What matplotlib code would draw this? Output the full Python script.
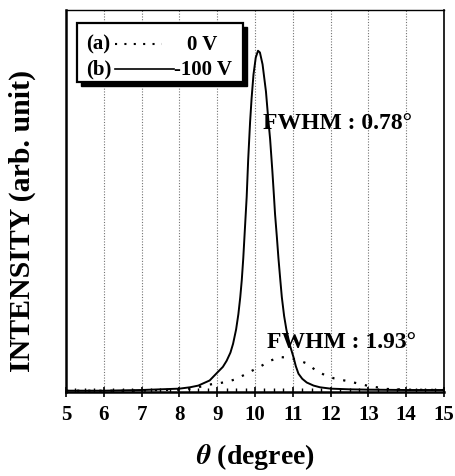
import matplotlib
matplotlib.use('Agg')
import matplotlib.pyplot as plt
from matplotlib.patches import Rectangle
from matplotlib.ticker import MultipleLocator

plt.rcParams['font.family'] = ['Liberation Serif', 'DejaVu Serif']
plt.rcParams['font.weight'] = 'bold'
plt.rcParams['mathtext.fontset'] = 'stix'

# solid curve (b) -100 V, normalised to its peak
theta_b = [5.0, 6.0, 7.0, 7.5, 8.0, 8.28, 8.5, 8.8, 9.0, 9.15, 9.25, 9.35, 9.42,
           9.50, 9.56, 9.61, 9.65, 9.69, 9.74, 9.78, 9.82, 9.87, 9.91, 9.96,
           10.02, 10.08, 10.13, 10.20, 10.29, 10.35, 10.40, 10.46, 10.50, 10.53,
           10.58, 10.62, 10.67, 10.71, 10.77, 10.83, 10.92, 11.02, 11.08, 11.15,
           11.25, 11.37, 11.55, 11.72, 12.0, 12.5, 13.0, 14.0, 15.0]
int_b = [0.0, 0.0, 0.002, 0.004, 0.006, 0.01, 0.015, 0.03, 0.053, 0.07, 0.088,
         0.112, 0.138, 0.18, 0.225, 0.275, 0.325, 0.39, 0.49, 0.57, 0.68, 0.79,
         0.86, 0.93, 0.98, 1.0, 0.995, 0.96, 0.88, 0.80, 0.74, 0.645, 0.575,
         0.52, 0.45, 0.39, 0.325, 0.275, 0.22, 0.18, 0.135, 0.098, 0.072, 0.05,
         0.035, 0.024, 0.015, 0.01, 0.006, 0.004, 0.003, 0.002, 0.002]

# dotted curve (a) 0 V
theta_a = [5.0, 6.0, 7.0, 7.5, 8.0, 8.2, 8.5, 8.72, 9.0, 9.25, 9.47, 9.69, 9.91,
           10.17, 10.40, 10.66, 10.88, 11.15, 11.37, 11.63, 11.90, 12.1, 12.5,
           13.0, 13.5, 14.0, 15.0]
int_a = [0.0, 0.0, 0.0, 0.002, 0.003, 0.004, 0.01, 0.017, 0.021, 0.026, 0.033,
         0.045, 0.058, 0.073, 0.088, 0.099, 0.097, 0.09, 0.08, 0.058, 0.043, 0.036,
         0.027, 0.014, 0.005, 0.003, 0.002]

x_ticks = [5, 6, 7, 8, 9, 10, 11, 12, 13, 14, 15]

fig = plt.figure(figsize=(4.56, 4.77), dpi=100)
ax = fig.add_axes([0.1447, 0.176, 0.829, 0.801])

for t in x_ticks[1:-1]:
    ax.axvline(t, color='0.45', lw=0.8, ls=(0, (1, 1.5)), zorder=1)

ax.plot(theta_a, int_a, color='black', lw=1.6, ls=(0, (1, 4)), zorder=2)
ax.plot(theta_b, int_b, color='black', lw=1.4, zorder=3)

ax.set_xlim(5, 15)
ax.set_ylim(-0.004, 1.12)
ax.set_xticks(x_ticks)
ax.xaxis.set_minor_locator(MultipleLocator(0.25))
ax.set_yticks([])
ax.tick_params(axis='x', which='major', direction='inout', length=7, width=1.2,
               labelsize=15, pad=5)
ax.tick_params(axis='x', which='minor', direction='in', length=3, width=1.0)
for lab in ax.get_xticklabels():
    lab.set_fontweight('bold')

ax.spines['left'].set_linewidth(1.8)
ax.spines['bottom'].set_linewidth(1.8)
ax.spines['top'].set_linewidth(1.0)
ax.spines['right'].set_linewidth(1.2)

ax.set_xlabel(r'$\theta$ (degree)', fontsize=20, fontweight='bold', labelpad=12)
ax.set_ylabel('INTENSITY (arb. unit)', fontsize=21.5, fontweight='bold')
ax.yaxis.set_label_coords(-0.08, 0.45)

ax.text(0.52, 0.705, 'FWHM : 0.78°', transform=ax.transAxes, fontsize=17,
        fontweight='bold', va='center', ha='left')
ax.text(0.531, 0.133, 'FWHM : 1.93°', transform=ax.transAxes, fontsize=17,
        fontweight='bold', va='center', ha='left')

# legend box with shadow
ax.add_patch(Rectangle((0.040, 0.802), 0.439, 0.154, transform=ax.transAxes,
                       facecolor='black', edgecolor='black', zorder=4))
ax.add_patch(Rectangle((0.029, 0.812), 0.439, 0.154, transform=ax.transAxes,
                       facecolor='white', edgecolor='black', lw=1.6, zorder=5))
ax.text(0.052, 0.912, '(a)', transform=ax.transAxes, fontsize=15,
        fontweight='bold', va='center', zorder=6)
ax.plot([0.13, 0.255], [0.912, 0.912], transform=ax.transAxes, color='black',
        lw=1.5, ls=(0, (1, 3.5)), zorder=6)
ax.text(0.32, 0.912, '0 V', transform=ax.transAxes, fontsize=15,
        fontweight='bold', va='center', zorder=6)
ax.text(0.052, 0.846, '(b)', transform=ax.transAxes, fontsize=15,
        fontweight='bold', va='center', zorder=6)
ax.plot([0.13, 0.285], [0.846, 0.846], transform=ax.transAxes, color='black',
        lw=1.2, zorder=6)
ax.text(0.286, 0.846, '-100 V', transform=ax.transAxes, fontsize=15,
        fontweight='bold', va='center', zorder=6)

fig.savefig('out.png', dpi=100)
